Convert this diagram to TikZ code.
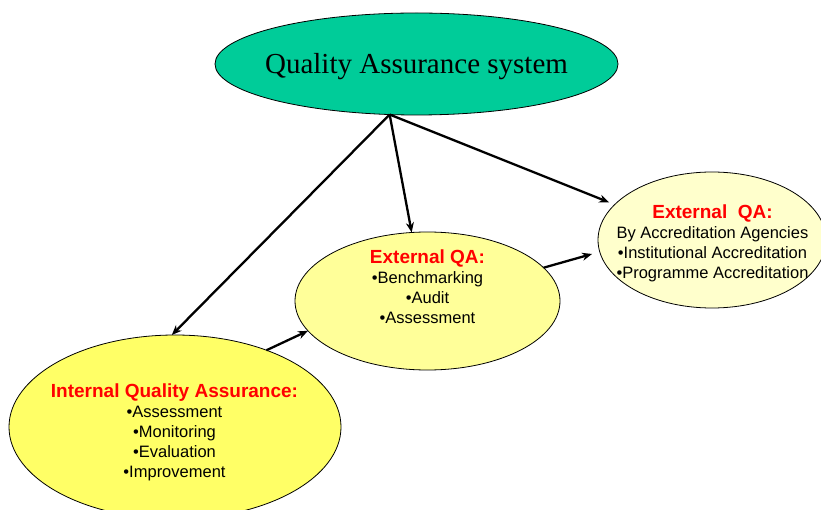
\documentclass[tikz,border=0pt]{standalone}
\usepackage{fontspec}
\setmainfont{Liberation Serif}
\setsansfont{Liberation Sans}
\usetikzlibrary{shapes.geometric,arrows.meta}
\definecolor{qagreen}{RGB}{0,204,153}
\definecolor{paleyellow}{RGB}{255,255,153}
\definecolor{paleryellow}{RGB}{255,255,204}
\definecolor{brightyellow}{RGB}{255,255,102}
\newcommand{\hdline}[1]{{\color{red}\bfseries\fontsize{19}{20}\selectfont #1}}
\begin{document}
\begin{tikzpicture}[x=1pt,y=-1pt,
  bubble/.style={ellipse,draw=black,line width=0.8pt,inner sep=0pt,outer sep=0pt},
  link/.style={line width=2.3pt,-{Stealth[length=10pt,width=8pt]}},
  txt/.style={align=center,font=\sffamily\fontsize{16.5}{20}\selectfont,inner sep=0pt,anchor=north}]
\useasboundingbox (0,0) rectangle (821,510);
\clip (0,0) rectangle (821,510);
\node[bubble,fill=qagreen,minimum width=403pt,minimum height=102pt] (qa) at (416.5,64) {};
\node[font=\fontsize{29}{30}\selectfont,anchor=base,inner sep=0pt] (qat) at (416.5,74) {Quality Assurance system};
\node[bubble,fill=paleyellow,minimum width=265pt,minimum height=138pt] (ext) at (427.5,301) {};
\node[bubble,fill=paleryellow,minimum width=228pt,minimum height=136pt] (acc) at (712,240) {};
\node[bubble,fill=brightyellow,minimum width=332pt,minimum height=184pt] (int) at (175,427) {};
\node[txt] (extt) at (427.5,249.5) {\hdline{External QA:}\\•Benchmarking\\•Audit\\•Assessment};
\node[txt] (acct) at (712.5,204.5) {\hdline{External~~QA:}\\By Accreditation Agencies\\•Institutional Accreditation\\•Programme Accreditation};
\node[txt] (intt) at (174.5,383.4) {\hdline{Internal Quality Assurance:}\\•Assessment\\•Monitoring\\•Evaluation\\•Improvement};
\draw[link] (qa.242.5) -- (int.92);
\draw[link] (qa.242.5) -- (ext.103);
\draw[link,shorten >=6pt] (qa.242.5) -- (acc.160);
\draw[link] (int.40) -- (ext.194);
\draw[link,shorten >=8pt] (ext.16) -- (acc.186);
\end{tikzpicture}
\end{document}
